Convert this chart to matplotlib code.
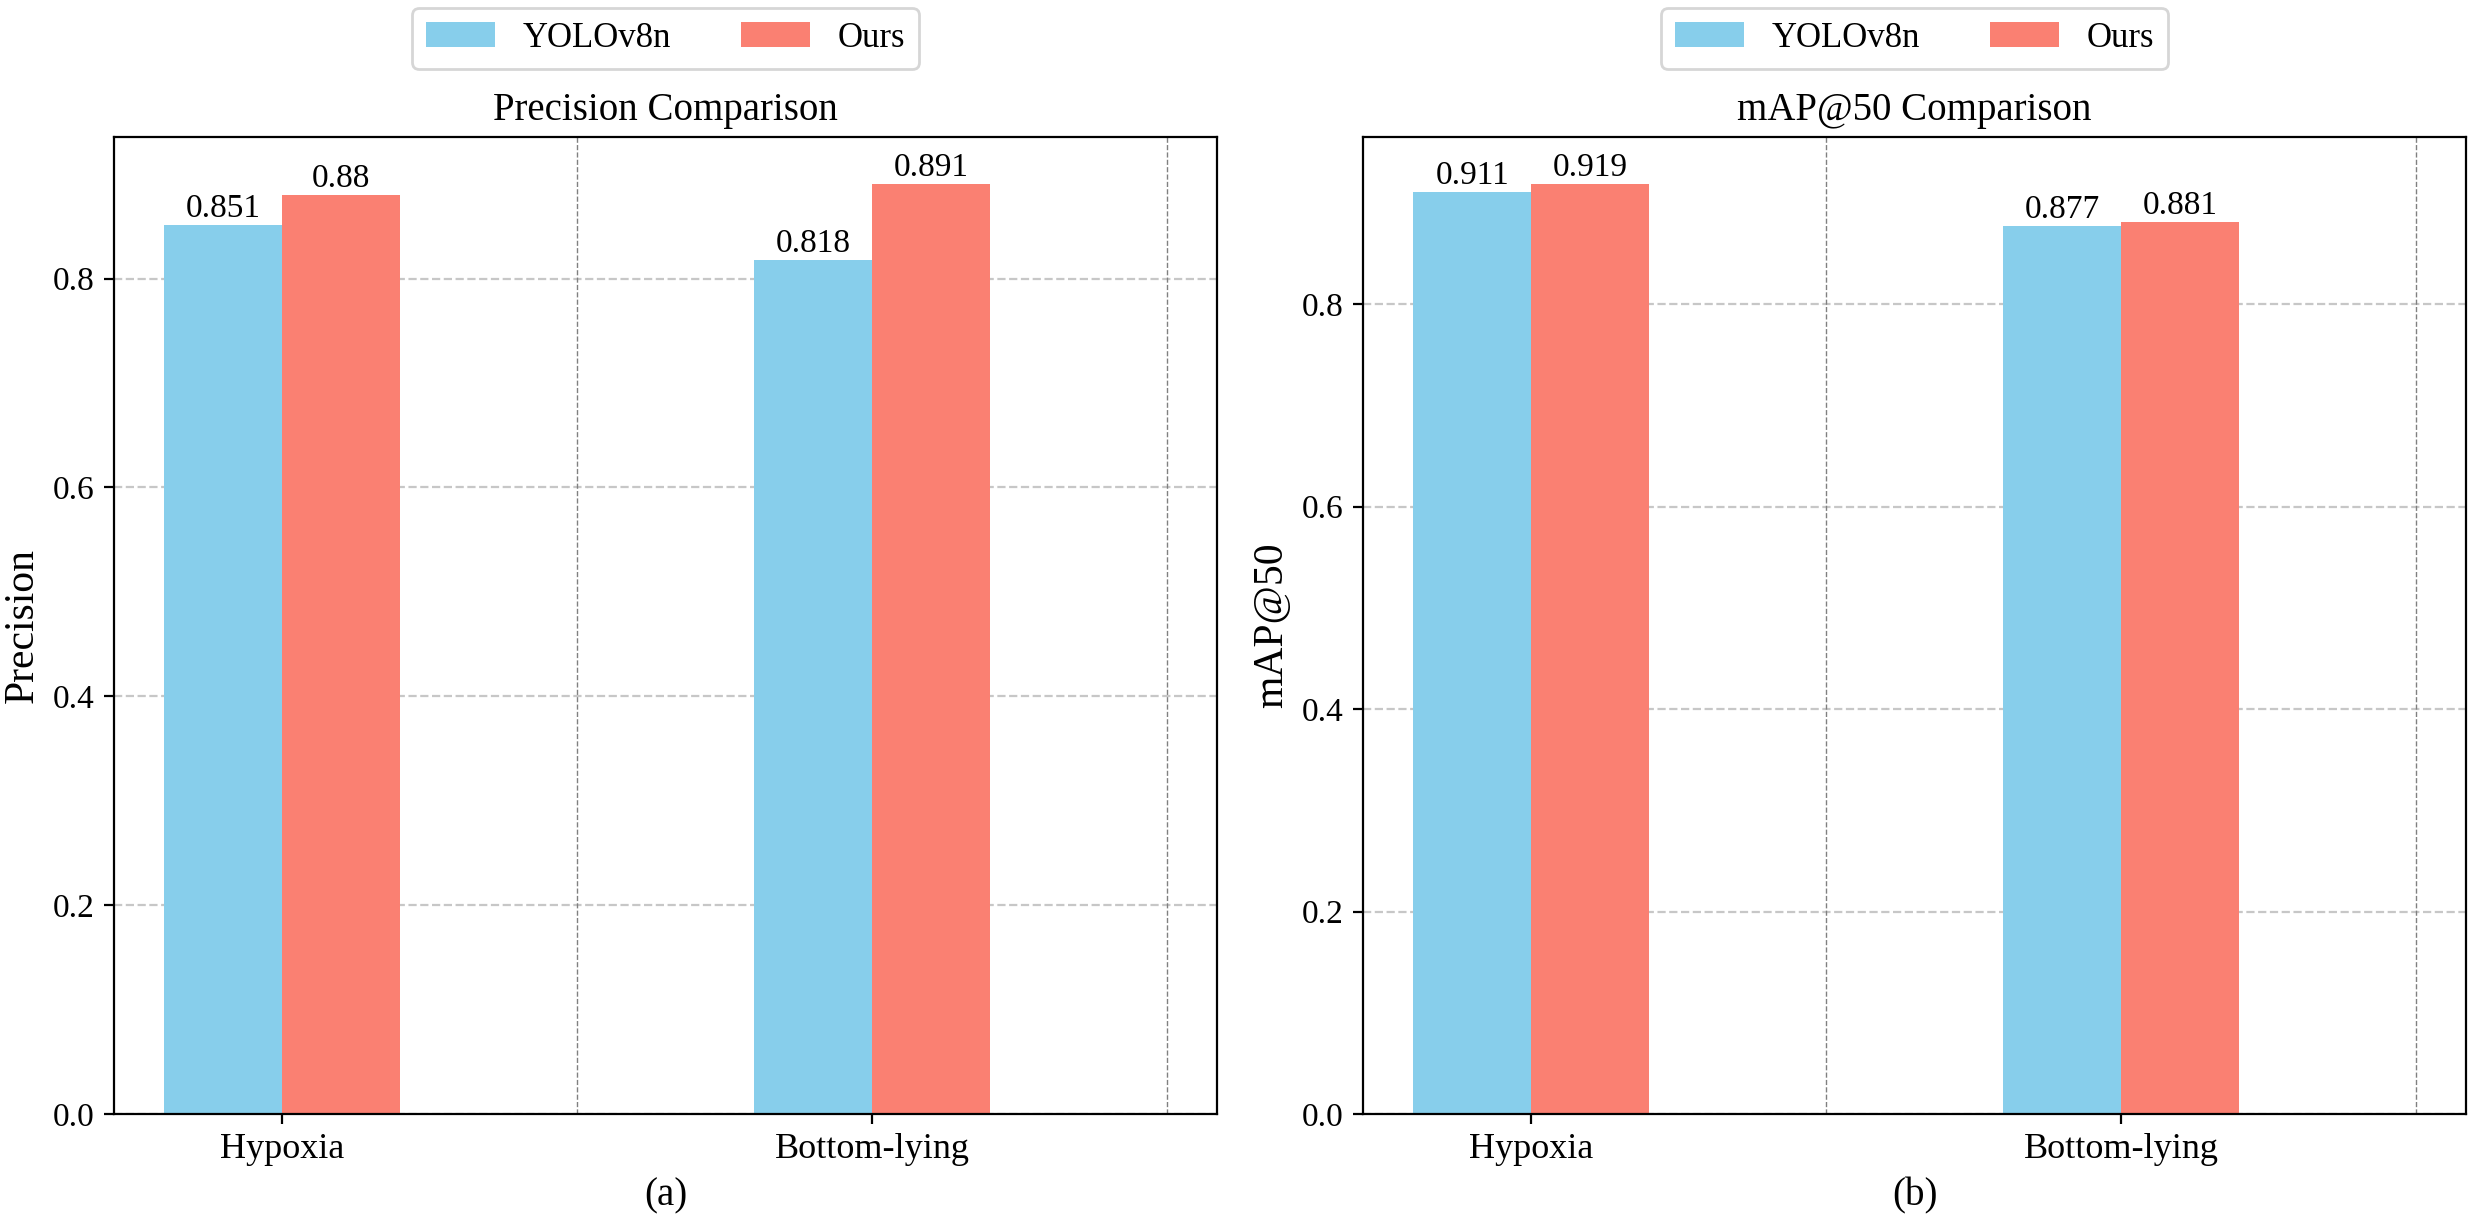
import matplotlib
matplotlib.use("Agg")
import matplotlib.pyplot as plt
import numpy as np

plt.rcParams['font.family'] = ['Liberation Serif', 'DejaVu Serif']

categories = ["Hypoxia", "Bottom-lying"]
models = ["YOLOv8n", "Ours"]
precision_yolo = [0.851, 0.818]
precision_ours = [0.880, 0.891]
map50_yolo = [0.911, 0.877]
map50_ours = [0.919, 0.881]

panels = [
    ("Precision", "Precision Comparison", "(a)", precision_yolo, precision_ours),
    ("mAP@50", "mAP@50 Comparison", "(b)", map50_yolo, map50_ours),
]
colors = ["skyblue", "salmon"]
width = 0.2

fig, axes = plt.subplots(1, 2, figsize=(12.365, 6.085), dpi=200)
fig.subplots_adjust(left=0.0461, right=0.9972, bottom=0.0846, top=0.8874, wspace=0.1324)

for ax, (ylabel, title, sub, yolo, ours) in zip(axes, panels):
    x = np.arange(len(categories))
    b1 = ax.bar(x - width / 2, yolo, width, color=colors[0], label=models[0])
    b2 = ax.bar(x + width / 2, ours, width, color=colors[1], label=models[1])
    for bars, vals in ((b1, yolo), (b2, ours)):
        for rect, v in zip(bars, vals):
            ax.text(rect.get_x() + rect.get_width() / 2, rect.get_height() + 0.001,
                    f"{v:g}", ha="center", va="bottom", fontsize=12)
    for i in range(len(categories)):
        ax.axvline(i + 0.5, color="gray", linestyle="--", linewidth=0.5)
    ax.set_ylim(0, max(max(yolo), max(ours)) * 1.05)
    ax.set_xticks(x)
    ax.set_xticklabels(categories, fontsize=13)
    ax.tick_params(axis="y", labelsize=12)
    ax.set_ylabel(ylabel, fontsize=15)
    ax.set_title(title, fontsize=14)
    ax.set_xlabel(sub, fontsize=14)
    ax.grid(axis="y", linestyle="--", alpha=0.7)
    ax.set_axisbelow(True)
    ax.legend(loc="lower center", bbox_to_anchor=(0.5, 1.07), ncol=2, fontsize=12.5,
              borderaxespad=0)

fig.savefig("out.png", dpi=200)
